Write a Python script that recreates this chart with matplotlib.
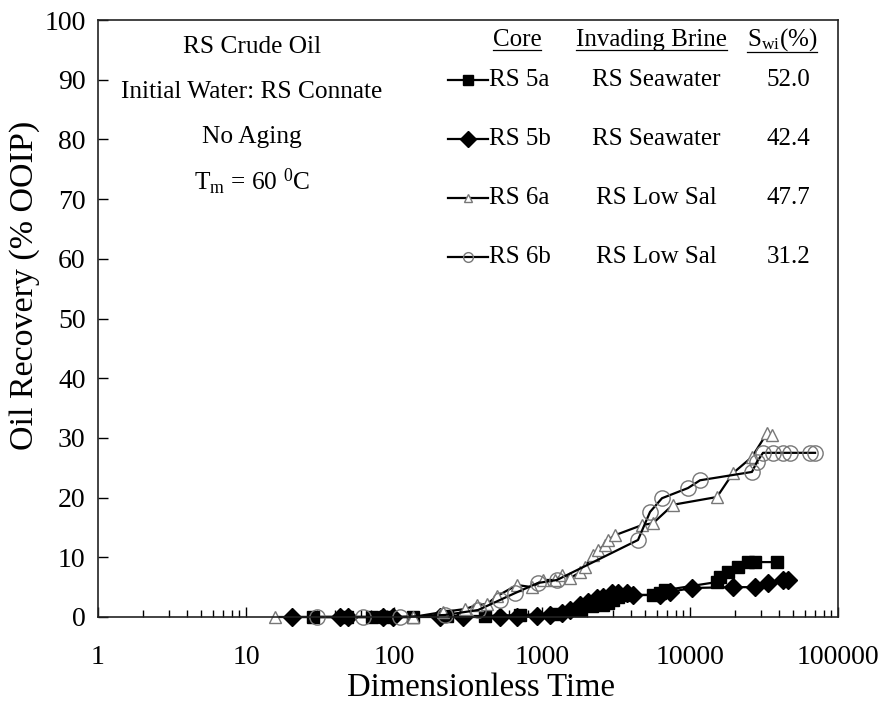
import matplotlib
matplotlib.use("Agg")
import matplotlib.pyplot as plt
from matplotlib.lines import Line2D

plt.rcParams['font.family'] = ['Liberation Serif', 'DejaVu Serif']
plt.rcParams['mathtext.fontset'] = 'custom'
plt.rcParams['mathtext.rm'] = 'Liberation Serif'
plt.rcParams['mathtext.it'] = 'Liberation Serif:italic'

# ---- data ----
rs5a_t = [28.4, 48.1, 71.0, 86.9, 134, 228, 412, 710, 1224, 1806, 2177, 2584, 2793,
          3019, 3264, 3527, 5623, 6267, 6777, 15210, 15950, 18060, 21100, 24640, 27500, 38710]
rs5a_r = [0, 0, 0, 0, 0, 0.17, 0.17, 0.34, 0.5, 1.17, 1.84, 2.0, 2.35,
          2.85, 3.35, 3.69, 3.69, 4.0, 4.5, 5.86, 6.7, 7.5, 8.4, 9.2, 9.2, 9.2]

rs5b_t = [20.5, 43.2, 48.9, 84.3, 98.4, 205, 293, 520, 678, 925, 1132, 1365, 1545,
          1806, 2047, 2355, 2584, 2972, 3264, 3750, 4118, 6267, 7326, 10320, 19530,
          27500, 33650, 42480, 45930]
rs5b_r = [0, 0, 0, 0, 0, 0, 0, 0, 0, 0.17, 0.34, 0.67, 1.17,
          2.0, 2.5, 3.18, 3.35, 4.0, 4.0, 4.0, 3.69, 3.69, 4.2, 4.86, 5.0,
          5.0, 5.7, 6.2, 6.2]

rs6a_t = [15.7, 134, 214, 302, 364, 425, 497, 678, 856, 1016, 1224, 1365, 1545, 1806,
          1954, 2213, 2390, 2666, 2793, 3114, 4742, 5623, 7678, 15210, 19530, 26220,
          33140, 35810]
rs6a_r = [0, 0, 0.84, 1.34, 2.0, 2.18, 3.5, 5.36, 5.0, 6.2, 6.2, 7.0, 6.5, 7.5,
          8.4, 10.4, 11.2, 12.1, 12.9, 13.7, 15.4, 15.7, 18.8, 20.1, 24.1, 26.8,
          30.8, 30.5]

rs6b_t = [30.2, 61.8, 110, 221, 370, 520, 657, 940, 1262, 4453, 5370, 6471, 9690,
          11690, 26220, 28360, 31130, 36370, 42480, 47420, 64710, 69980]
rs6b_r = [0, 0, 0, 0.34, 1.17, 2.85, 4.0, 5.7, 6.2, 12.9, 17.6, 19.9, 21.6,
          22.9, 24.3, 26.0, 27.5, 27.5, 27.5, 27.5, 27.5, 27.5]

cores = ["RS 5a", "RS 5b", "RS 6a", "RS 6b"]
brines = ["RS Seawater", "RS Seawater", "RS Low Sal", "RS Low Sal"]
swi = ["52.0", "42.4", "47.7", "31.2"]
notes = ["RS Crude Oil", "Initial Water: RS Connate", "No Aging",
         r"T$_\mathregular{m}$ = 60 $^\mathregular{0}$C"]

fig = plt.figure(figsize=(8.88, 7.06), dpi=100)
ax = fig.add_axes([98/888, 1-617/706, 740/888, 597/706])

styles = [
    dict(marker='s', ms=9, mfc='black', mec='black'),
    dict(marker='D', ms=9, mfc='black', mec='black'),
    dict(marker='^', ms=9, mfc='white', mec='#777777', mew=1.0),
    dict(marker='o', ms=11, mfc='none', mec='#777777', mew=1.0),
]
series = [(rs5a_t, rs5a_r), (rs5b_t, rs5b_r), (rs6a_t, rs6a_r), (rs6b_t, rs6b_r)]
for (t, r), st in zip(series, styles):
    ax.plot(t, r, color='black', lw=1.6, clip_on=False, **st)

ax.set_xscale('log')
ax.set_xlim(1, 100000)
ax.set_ylim(0, 100)
ax.set_yticks(range(0, 101, 10))
ax.set_xticks([1, 10, 100, 1000, 10000, 100000])
ax.set_xticklabels(["1", "10", "100", "1000", "10000", "100000"])
ax.tick_params(axis='both', which='major', direction='in', length=7, width=1,
               labelsize=20)
ax.tick_params(axis='x', which='minor', direction='in', length=5, width=1)
ax.tick_params(axis='x', which='major', pad=20)
ax.tick_params(axis='y', which='major', pad=9)
ax.tick_params(top=False, right=False, which='both')
for s in ax.spines.values():
    s.set_linewidth(1.2)
    s.set_color('#222222')

ax.set_xlabel("Dimensionless Time", fontsize=23.5)
ax.xaxis.set_label_coords((481 - 98) / 740, (617 - 672) / 597)
ax.set_ylabel("Oil Recovery (% OOIP)", fontsize=24.5)
ax.yaxis.set_label_coords((40 - 98) / 740, (617 - 285) / 597)

# notes
note_y = [47, 92, 137, 182]
for txt, y in zip(notes, note_y):
    fig.text(252/888, 1-y/706, txt, ha='center', va='center', fontsize=18.3)

# legend table
hdr_y = 40
row_y = [80, 139, 198, 257]
headers = [("Core", 517), ("Invading Brine", 651), (r"S$_\mathregular{wi}$(%)", 782)]
fig.canvas.draw()
renderer = fig.canvas.get_renderer()
for txt, x in headers:
    t = fig.text(x/888, 1-hdr_y/706, txt, ha='center', va='center', fontsize=18)
    bb = t.get_window_extent(renderer)
    yline = bb.y0 + 1
    fig.add_artist(Line2D([bb.x0/888, bb.x1/888], [yline/706, yline/706],
                          color='black', lw=0.9, transform=fig.transFigure))

leg_ms = [7, 8, 6, 7]
for i, (c, b, s) in enumerate(zip(cores, brines, swi)):
    y = 1 - row_y[i]/706
    st = dict(styles[i])
    st['ms'] = leg_ms[i]
    fig.add_artist(Line2D([448/888, 488/888], [y, y], color='black', lw=1.6,
                          transform=fig.transFigure))
    fig.add_artist(Line2D([468/888], [y], color='black', lw=0,
                          transform=fig.transFigure, **st))
    fig.text(489/888, y, c, ha='left', va='center', fontsize=18)
    fig.text(656/888, y, b, ha='center', va='center', fontsize=18)
    fig.text(810/888, y, s, ha='right', va='center', fontsize=18)

fig.savefig("out.png", dpi=100)
